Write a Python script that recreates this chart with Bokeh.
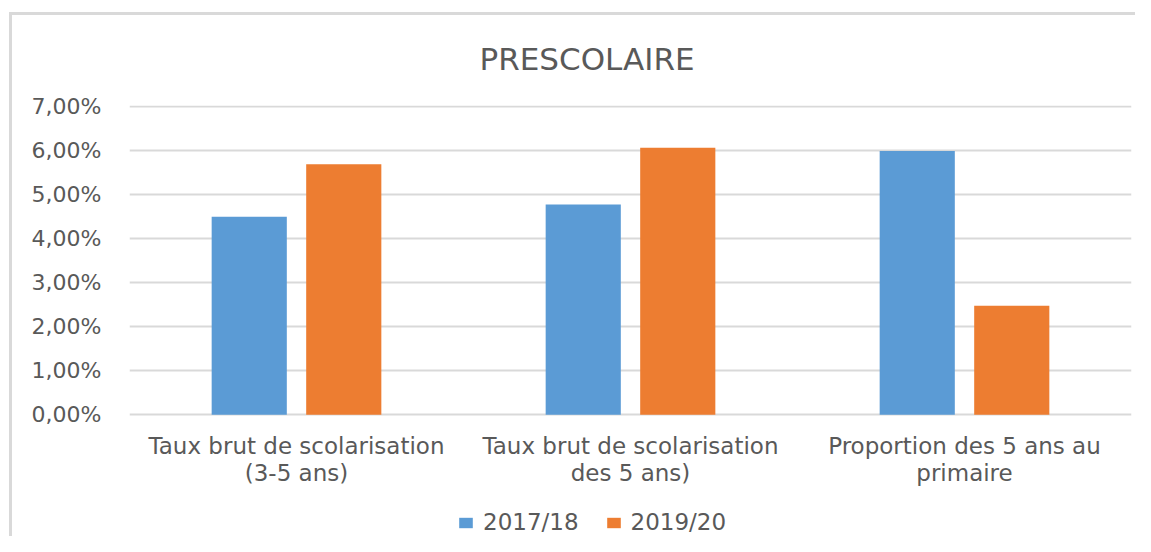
from bokeh.plotting import figure
from bokeh.models import (ColumnDataSource, FactorRange, Range1d, FixedTicker,
                          Legend, LegendItem, Title)
from bokeh.transform import dodge
from bokeh.embed import file_html
from bokeh.resources import INLINE

# ---- data ----
categories = ["Taux brut de scolarisation\n(3-5 ans)",
              "Taux brut de scolarisation\ndes 5 ans)",
              "Proportion des 5 ans au\nprimaire"]
series_names = ["2017/18", "2019/20"]
values_2017 = [4.50, 4.78, 6.00]
values_2019 = [5.70, 6.07, 2.48]
y_ticks = [0, 1, 2, 3, 4, 5, 6, 7]
y_tick_labels = ["0,00%", "1,00%", "2,00%", "3,00%", "4,00%", "5,00%", "6,00%", "7,00%"]
title_text = "PRESCOLAIRE"

colors = ["#5B9BD5", "#ED7D31"]
text_color = "#595959"
grid_color = "#D9D9D9"
FONT = "DejaVu Sans"

source = ColumnDataSource(dict(cat=categories, v2017=values_2017, v2019=values_2019))

# frame spans from just above the 7% line down to the bottom of the canvas;
# the category axis is pinned at y = 0 and the legend sits under it.
p = figure(width=1135, height=536, output_backend="svg", toolbar_location=None,
           x_range=FactorRange(*categories), y_range=Range1d(-2.773, 7.034),
           min_border_left=129, min_border_right=4, min_border_top=105,
           min_border_bottom=0, title=None)
p.outline_line_color = None
p.background_fill_color = "white"
p.border_fill_color = None
# chart frame lines (left / top) drawn as host-element background
p.styles = {
    "background": ("linear-gradient(#D9D9D9,#D9D9D9) 9px 12px / 3px 700px no-repeat, "
                   "linear-gradient(#D9D9D9,#D9D9D9) 9px 12px / 1400px 3px no-repeat, white")
}

r1 = p.vbar(x=dodge("cat", -0.1415, range=p.x_range), top="v2017", width=0.225,
            source=source, fill_color=colors[0], line_color=None)
r2 = p.vbar(x=dodge("cat", 0.1415, range=p.x_range), top="v2019", width=0.225,
            source=source, fill_color=colors[1], line_color=None)

# axes
p.yaxis.ticker = FixedTicker(ticks=y_ticks)
p.yaxis.major_label_overrides = {t: l for t, l in zip(y_ticks, y_tick_labels)}
p.yaxis.axis_line_color = None
p.yaxis.major_tick_line_color = None
p.yaxis.minor_tick_line_color = None
p.yaxis.major_label_text_font = FONT
p.yaxis.major_label_text_font_size = "22px"
p.yaxis.major_label_text_color = text_color
p.yaxis.major_label_standoff = 22

p.xaxis.fixed_location = 0
p.xaxis.axis_line_color = None
p.xaxis.major_tick_line_color = None
p.xaxis.major_label_text_font = FONT
p.xaxis.major_label_text_font_size = "23px"
p.xaxis.major_label_text_color = text_color
p.xaxis.major_label_text_line_height = 1.05
p.xaxis.major_label_standoff = 12
p.xaxis.major_label_orientation = "horizontal"

p.xgrid.grid_line_color = None
p.ygrid.grid_line_color = grid_color
p.ygrid.grid_line_width = 2

# title
p.add_layout(Title(text=title_text, align="left", offset=350, standoff=57,
                   text_font=FONT, text_font_size="31px", text_font_style="normal",
                   text_color=text_color), "above")

# legend
legend = Legend(items=[LegendItem(label=series_names[0], renderers=[r1]),
                       LegendItem(label=series_names[1], renderers=[r2])],
                orientation="horizontal", location=(328, 1))
legend.glyph_width = 17
legend.glyph_height = 13
legend.label_standoff = 9
legend.spacing = 26
legend.padding = 0
legend.margin = 0
legend.border_line_color = None
legend.background_fill_alpha = 0
legend.label_text_font = FONT
legend.label_text_font_size = "23px"
legend.label_text_color = text_color
p.add_layout(legend, "center")

open("out.html", "w").write(file_html(p, INLINE))
